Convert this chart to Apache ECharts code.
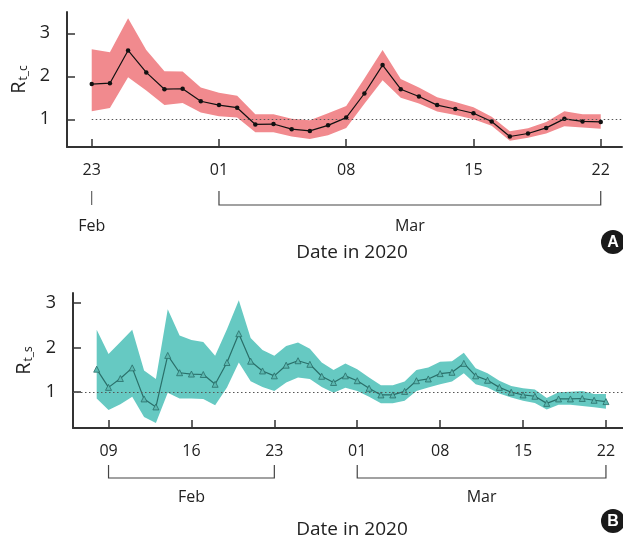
<!DOCTYPE html>
<html><head><meta charset="utf-8">
<script src="https://cdn.jsdelivr.net/npm/echarts@6/dist/echarts.min.js"></script>
<style>html,body{margin:0;padding:0;background:#fff}#c{width:623px;height:541px}</style>
</head><body><div id="c"></div>
<script>
// ---------- data ----------
const datesA = ['02-23','02-24','02-25','02-26','02-27','02-28','02-29',
  '03-01','03-02','03-03','03-04','03-05','03-06','03-07','03-08','03-09','03-10','03-11',
  '03-12','03-13','03-14','03-15','03-16','03-17','03-18','03-19','03-20','03-21','03-22'];
const rtcMean = [1.82,1.84,2.60,2.09,1.70,1.71,1.42,1.33,1.27,0.88,0.89,0.77,0.73,0.86,1.04,1.60,2.26,1.70,1.53,1.33,1.24,1.14,0.95,0.60,0.67,0.80,1.01,0.95,0.94];
const rtcLow  = [1.19,1.26,1.98,1.67,1.33,1.38,1.16,1.07,1.04,0.70,0.70,0.60,0.54,0.63,0.80,1.36,1.91,1.50,1.37,1.18,1.10,1.00,0.85,0.50,0.57,0.67,0.84,0.81,0.78];
const rtcHigh = [2.63,2.56,3.35,2.61,2.12,2.11,1.74,1.62,1.55,1.12,1.12,1.01,0.98,1.14,1.31,1.95,2.61,1.94,1.74,1.51,1.40,1.28,1.06,0.72,0.79,0.94,1.19,1.12,1.12];

const datesB = ['02-08','02-09','02-10','02-11','02-12','02-13','02-14','02-15','02-16','02-17','02-18',
  '02-19','02-20','02-21','02-22','02-23','02-24','02-25','02-26','02-27','02-28','02-29',
  '03-01','03-02','03-03','03-04','03-05','03-06','03-07','03-08','03-09','03-10','03-11',
  '03-12','03-13','03-14','03-15','03-16','03-17','03-18','03-19','03-20','03-21','03-22'];
const rtsMean = [1.51,1.10,1.30,1.54,0.84,0.66,1.82,1.43,1.40,1.39,1.17,1.66,2.31,1.69,1.47,1.36,1.60,1.70,1.62,1.35,1.21,1.36,
  1.25,1.08,0.93,0.93,1.01,1.25,1.29,1.41,1.44,1.64,1.36,1.26,1.10,0.99,0.93,0.90,0.74,0.84,0.84,0.85,0.81,0.78];
const rtsLow  = [0.85,0.59,0.72,0.89,0.43,0.30,0.98,0.85,0.85,0.84,0.70,1.10,1.66,1.24,1.11,1.02,1.21,1.32,1.29,1.11,0.98,1.09,
  1.02,0.89,0.74,0.74,0.80,1.02,1.10,1.17,1.23,1.42,1.17,1.10,0.96,0.87,0.80,0.75,0.60,0.71,0.71,0.68,0.65,0.62];
const rtsHigh = [2.40,1.85,2.12,2.40,1.48,1.29,2.86,2.27,2.17,2.12,1.81,2.41,3.06,2.21,1.94,1.81,2.03,2.11,1.97,1.66,1.49,1.64,
  1.51,1.32,1.15,1.15,1.23,1.49,1.55,1.68,1.69,1.88,1.53,1.42,1.25,1.13,1.08,1.05,0.86,0.99,1.00,1.02,0.95,0.95];

const ticksA = ['02-23','03-01','03-08','03-15','03-22'];
const ticksB = ['02-09','02-16','02-23','03-01','03-08','03-15','03-22'];
const yTicks = [1, 2, 3];
const threshold = 1;
const monthGroupsA = [{label:'Feb', from:'02-23', to:'02-23'}, {label:'Mar', from:'03-01', to:'03-22'}];
const monthGroupsB = [{label:'Feb', from:'02-09', to:'02-23'}, {label:'Mar', from:'03-01', to:'03-22'}];

// ---------- helpers ----------
const BASE = Date.UTC(2020, 2, 1);
function day(s){ const [m,d] = s.split('-').map(Number); return (Date.UTC(2020, m-1, d) - BASE) / 864e5; }
function dd(v){ const d = new Date(BASE + Math.round(v) * 864e5).getUTCDate(); return (d < 10 ? '0' : '') + d; }

const FONT = "'Open Sans', sans-serif";
const AX = '#333';
const colA = '#f18a8e', colB = '#66c9c2';

const xRangeA = [-8.36, 22.17];
const xRangeB = [-24.0, 22.44];

function xAxisCfg(idx, range, ticks){
  return {
    type:'value', gridIndex:idx, min:range[0], max:range[1],
    axisLine:{show:true, onZero:false, lineStyle:{color:AX, width:2}},
    axisTick:{show:true, inside:true, length:8, customValues:ticks.map(day), lineStyle:{color:AX, width:1.5}},
    axisLabel:{show:true, customValues:ticks.map(day), formatter:dd, margin:15, fontSize:16, color:'#222', fontFamily:FONT},
    splitLine:{show:false}
  };
}
function yAxisCfg(idx, min, max){
  return {
    type:'value', gridIndex:idx, min:min, max:max,
    axisLine:{show:true, onZero:false, lineStyle:{color:AX, width:2}},
    axisTick:{show:true, inside:true, length:8, customValues:yTicks, lineStyle:{color:AX, width:1.5}},
    axisLabel:{show:true, customValues:yTicks, margin:17, fontSize:18, color:'#222', fontFamily:FONT},
    splitLine:{show:false}
  };
}
// confidence band: one polygon through all (day, low, high) triples
function band(idx, dates, low, high, color){
  return {
    type:'custom', xAxisIndex:idx, yAxisIndex:idx, silent:true, z:1,
    encode:{x:0, y:[1,2]},
    data:dates.map((d,i)=>[day(d), low[i], high[i]]),
    renderItem:function(params, api){
      if (params.dataIndex !== 0) return null;
      const n = dates.length, top = [], bot = [];
      for (let i = 0; i < n; i++) {
        top.push(api.coord([day(dates[i]), high[i]]));
        bot.push(api.coord([day(dates[i]), low[i]]));
      }
      return {type:'polygon', shape:{points:top.concat(bot.reverse())}, style:{fill:color}};
    }
  };
}

const chart = echarts.init(document.getElementById('c'), null, {renderer:'canvas'});
chart.setOption({
  animation:false,
  backgroundColor:'#fff',
  textStyle:{fontFamily:FONT},
  grid:[
    {left:67, top:12, width:555, height:135},
    {left:73, top:293, width:550, height:135}
  ],
  xAxis:[xAxisCfg(0, xRangeA, ticksA), xAxisCfg(1, xRangeB, ticksB)],
  yAxis:[yAxisCfg(0, 0.356, 3.495), yAxisCfg(1, 0.185, 3.226)],
  series:[
    band(0, datesA, rtcLow, rtcHigh, colA),
    {type:'line', xAxisIndex:0, yAxisIndex:0, symbol:'circle', symbolSize:4.5, z:3,
     lineStyle:{color:'#111', width:1.2}, itemStyle:{color:'#111'},
     data:datesA.map((d,i)=>[day(d), rtcMean[i]]),
     markLine:{silent:true, symbol:'none', label:{show:false},
       lineStyle:{type:[1.5,2.5], color:'#555', width:1},
       data:[[{coord:[day(datesA[0]), threshold]},{coord:[xRangeA[1], threshold]}]]}},
    band(1, datesB, rtsLow, rtsHigh, colB),
    {type:'line', xAxisIndex:1, yAxisIndex:1, symbol:'triangle', symbolSize:6, z:3,
     lineStyle:{color:'#2a6f69', width:1.2}, itemStyle:{color:'#5bb8b0', borderColor:'#2a6f69', borderWidth:0.8},
     data:datesB.map((d,i)=>[day(d), rtsMean[i]]),
     markLine:{silent:true, symbol:'none', label:{show:false},
       lineStyle:{type:[1.5,2.5], color:'#555', width:1},
       data:[[{coord:[xRangeB[0], threshold]},{coord:[xRangeB[1], threshold]}]]}}
  ]
});

// ---------- annotations placed through the axes ----------
function px(g, x, y){ return chart.convertToPixel({gridIndex:g}, [x, y]); }
const gfx = [];
function addGroups(g, groups, yTop, yLine, yLabel){
  groups.forEach(gr => {
    const x1 = px(g, day(gr.from), 1)[0], x2 = px(g, day(gr.to), 1)[0];
    if (x1 === x2) {
      gfx.push({type:'line', shape:{x1:x1, y1:yTop, x2:x1, y2:yLine}, style:{stroke:'#444', lineWidth:1}});
    } else {
      gfx.push({type:'polyline', shape:{points:[[x1,yTop],[x1,yLine],[x2,yLine],[x2,yTop]]}, style:{stroke:'#444', lineWidth:1.2, fill:null}});
    }
    gfx.push({type:'text', x:(x1+x2)/2, y:yLabel, style:{text:gr.label, fontSize:16, fontFamily:FONT, fill:'#222', align:'center', verticalAlign:'middle'}});
  });
}
addGroups(0, monthGroupsA, 191, 205, 226);
addGroups(1, monthGroupsB, 465, 478, 497);

function yTitle(g, sub, x, yMin, yMax){
  const yMid = (px(g, 0, yMin)[1] + px(g, 0, yMax)[1]) / 2;
  gfx.push({type:'text', x:x, y:yMid, rotation:Math.PI/2,
    style:{text:'{r|R}{s|' + sub + '}', align:'center', verticalAlign:'middle', fill:'#222', fontFamily:FONT,
      rich:{r:{fontSize:20, lineHeight:20, verticalAlign:'top', fontFamily:FONT, fill:'#222'},
            s:{fontSize:12, lineHeight:12, padding:[9,0,0,1], verticalAlign:'top', fontFamily:FONT, fill:'#222'}}}});
}
yTitle(0, 't_c', 19, 0.356, 3.495);
yTitle(1, 't_s', 24, 0.185, 3.226);

function xTitle(y){
  gfx.push({type:'text', x:352, y:y, style:{text:'Date in 2020', fontSize:19, fontFamily:FONT, fill:'#222', align:'center', verticalAlign:'middle'}});
}
xTitle(253); xTitle(530);

function badge(letter, y){
  gfx.push({type:'circle', shape:{cx:613, cy:y, r:12}, style:{fill:'#1a1a1a'}});
  gfx.push({type:'text', x:613, y:y+1, style:{text:letter, fontSize:16, fontWeight:'bold', fontFamily:"'Liberation Sans', sans-serif", fill:'#fff', align:'center', verticalAlign:'middle'}});
}
badge('A', 242); badge('B', 521);

chart.setOption({graphic:gfx});
</script>
</body></html>
